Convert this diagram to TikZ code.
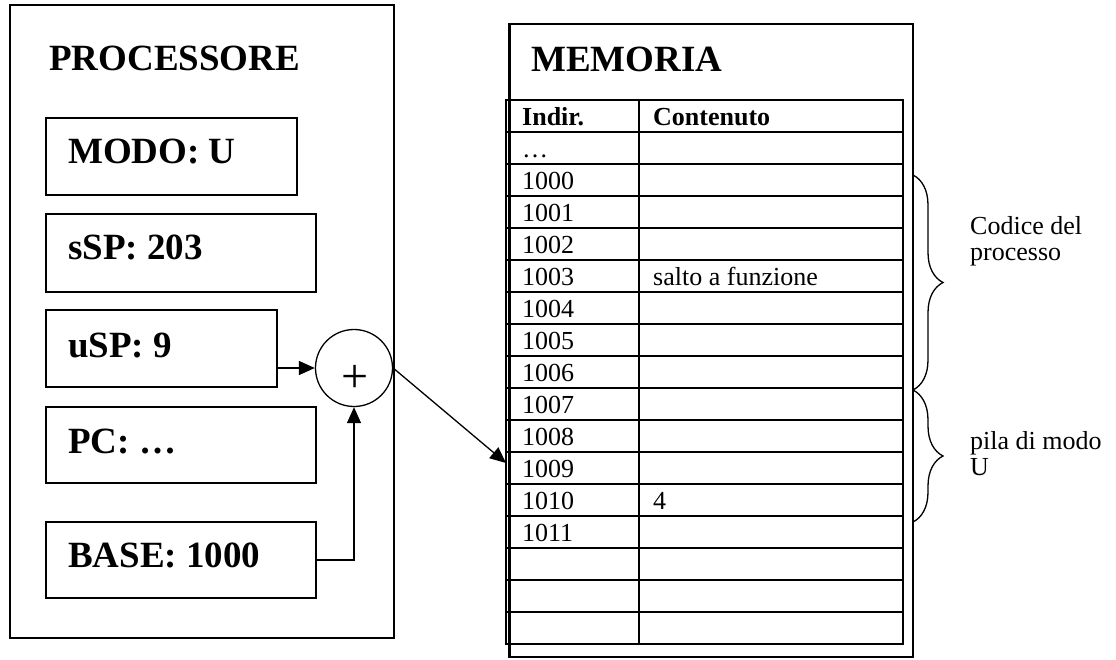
\documentclass[tikz,border=0pt]{standalone}
\usepackage{fontspec}
\setmainfont{Liberation Serif}
\usetikzlibrary{arrows.meta,decorations.pathreplacing}
\tikzset{
  regbox/.style={draw, rectangle, line width=1.3pt, inner sep=0pt},
  biglabel/.style={font=\fontsize{37}{40}\selectfont\bfseries, anchor=base west, inner sep=0pt},
  celltext/.style={font=\fontsize{26}{26}\selectfont, anchor=base west, inner sep=0pt},
  cellhead/.style={font=\fontsize{26}{26}\selectfont\bfseries, anchor=base west, inner sep=0pt},
  sidetext/.style={font=\fontsize{26}{25.5}\selectfont, anchor=base west, inner sep=0pt, align=left},
  arr/.style={-{Triangle[length=16pt,width=14pt]}, line width=1.3pt},
  tline/.style={line width=1.6pt},
  bracedeco/.style={decorate, decoration={brace, amplitude=30pt}, line width=1.3pt}
}
\begin{document}
\begin{tikzpicture}[x=1pt,y=-1pt]
\useasboundingbox (0,0) rectangle (1116,659);

% processor
\node[regbox, minimum width=384pt, minimum height=633pt] (proc) at (202,321.5) {};
\node[biglabel] (proclbl) at (49,70) {PROCESSORE};

\node[regbox, minimum width=251pt, minimum height=77pt] (modo) at (171.5,156.5) {};
\node[biglabel] (modolbl) at (68,163) {MODO: U};
\node[regbox, minimum width=270pt, minimum height=78pt] (ssp) at (181,253) {};
\node[biglabel] (ssplbl) at (68,259) {sSP: 203};
\node[regbox, minimum width=231pt, minimum height=77pt] (usp) at (161.5,348.5) {};
\node[biglabel] (usplbl) at (68,357) {uSP: 9};
\node[regbox, minimum width=270pt, minimum height=76pt] (pc) at (181,445) {};
\node[biglabel] (pclbl) at (68,453) {PC: …};
\node[regbox, minimum width=270pt, minimum height=76pt] (base) at (181,560) {};
\node[biglabel] (baselbl) at (68,567) {BASE: 1000};

% adder
\node[draw, circle, line width=1.3pt, minimum size=77pt, inner sep=0pt] (adder) at (354,368) {};
\node[inner sep=0pt, font=\fontsize{48}{48}\selectfont] (plus) at (355,379) {+};

\draw[arr] (usp.east |- adder.west) -- (adder.west);
\draw[arr] (base.east) -| (adder.south);

% memory
\node[draw, rectangle, line width=2.5pt, minimum width=403.5pt, minimum height=633pt, inner sep=0pt] (mem) at (711.25,340.5) {};
\node[biglabel] (memlbl) at (531,71) {MEMORIA};

\node[draw, rectangle, tline, minimum width=397pt, minimum height=544pt, inner sep=0pt] (tbl) at (704.5,372) {};
\foreach \i in {1,...,16} {
  \draw[tline] (506,100+32*\i) -- (903,100+32*\i);
}
\draw[tline] (639,100) -- (639,644);

\node[cellhead] (h1) at (522,125) {Indir.};
\node[cellhead] (h2) at (653,125) {Contenuto};
\node[celltext] (dots) at (522,157) {…};
\foreach \i/\a in {0/1000,1/1001,2/1002,3/1003,4/1004,5/1005,6/1006,7/1007,8/1008,9/1009,10/1010,11/1011} {
  \node[celltext] (addr\a) at (522,189+32*\i) {\a};
}
\node[celltext] (c1003) at (653,285) {salto a funzione};
\node[celltext] (c1010) at (653,509) {4};

% arrow into memory
\coordinate (tip) at (506,463);
\draw[arr] (adder.east) -- (tip);

% braces
\draw[bracedeco] (913,175) -- (913,390);
\draw[bracedeco] (913,390) -- (913,522);
\node[sidetext] (codice) at (970,260) {Codice del\\processo};
\node[sidetext] (pila) at (970,475) {pila di modo\\U};
\end{tikzpicture}
\end{document}
